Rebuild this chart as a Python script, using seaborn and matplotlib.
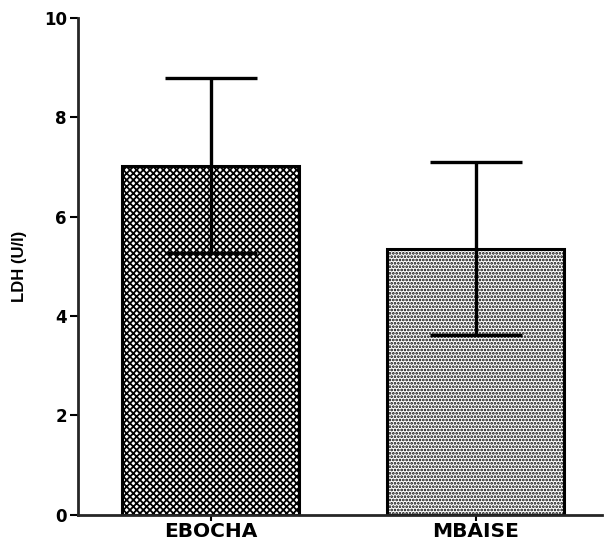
import numpy as np
import pandas as pd
import matplotlib
matplotlib.use("Agg")
from matplotlib import pyplot as plt
import seaborn as sns

groups = ["EBOCHA", "MBAISE"]
ldh_mean = [7.02, 5.35]
ldh_sd = [1.76, 1.74]
hatches = ["xxxxx", "....."]

sns.set_style("ticks")
plt.rcParams["font.family"] = ["DejaVu Sans"]
plt.rcParams["hatch.linewidth"] = 1.3
plt.rcParams["hatch.color"] = "black"
plt.rcParams["text.color"] = "black"
plt.rcParams["axes.labelcolor"] = "black"
plt.rcParams["xtick.color"] = "black"
plt.rcParams["ytick.color"] = "black"

df = pd.DataFrame({"group": groups, "ldh": ldh_mean})

fig = plt.figure(figsize=(6.05, 5.4), dpi=100)
ax = fig.add_axes([0.129, 0.047, 0.866, 0.920])

sns.barplot(data=df, x="group", y="ldh", color="white", width=0.667,
            edgecolor="black", linewidth=2.2, errorbar=None, ax=ax, zorder=2)
for bar, h in zip(ax.patches, hatches):
    bar.set_hatch(h)

ax.errorbar(range(len(groups)), ldh_mean, yerr=ldh_sd, fmt="none",
            ecolor="black", elinewidth=2.4, capsize=33, capthick=2.4, zorder=3)

ax.set_ylim(0, 10)
ax.set_xlim(-0.5, 1.475)
ax.set_yticks([0, 2, 4, 6, 8, 10])
ax.set_xlabel("")
ax.set_ylabel("LDH (U/l)", fontsize=12, fontweight="bold", labelpad=12,
              family=["Liberation Sans", "DejaVu Sans"])
ax.tick_params(axis="y", labelsize=12, width=1.5, length=6, pad=2)
ax.tick_params(axis="x", labelsize=14.5, width=1.5, length=4, pad=1)
for lab in ax.get_xticklabels() + ax.get_yticklabels():
    lab.set_fontweight("bold")
sns.despine(ax=ax)
ax.spines["left"].set_linewidth(2)
ax.spines["bottom"].set_linewidth(2)

fig.savefig("out.png", dpi=100)
